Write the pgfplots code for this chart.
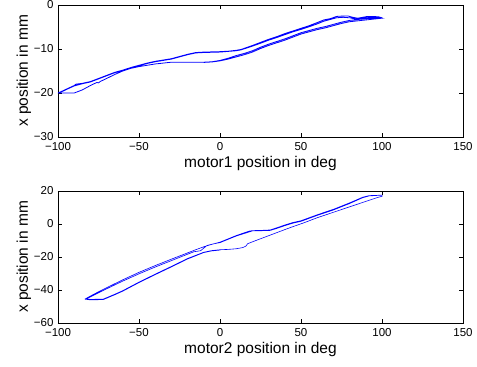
\documentclass[border=0pt]{standalone}
\usepackage{pgfplots}
\pgfplotsset{compat=1.18}
\usepackage{fontspec}
\setmainfont{Liberation Sans}
\begin{document}
\begin{tikzpicture}[x=1pt,y=1pt]
\pgfplotsset{
  every axis/.append style={
    scale only axis, width=405pt, height=132pt,
    anchor=south west,
    tick align=inside, tick pos=both,
    major tick length=4pt,
    every tick/.style={black, line width=0.5pt},
    axis line style={black, line width=0.7pt},
    tick label style={font=\fontsize{11.5}{12}\selectfont, black},
    xticklabel style={yshift=-2pt},
    yticklabel style={xshift=-1pt},
    label style={font=\fontsize{15.5}{16}\selectfont, black},
    xmin=-100, xmax=150,
    xtick={-100,-50,0,50,100,150},
    xticklabels={−100,−50,0,50,100,150},
    ylabel={x position in mm},
    ylabel style={at={(axis description cs:-0.084,0.5)}, anchor=center, rotate=0},
    xlabel style={at={(axis description cs:0.5,-0.197)}, anchor=center},
    clip=true,
  },
}
\begin{axis}[at={(58pt,230pt)},
  ymin=-30, ymax=0, ytick={-30,-20,-10,0}, yticklabels={−30,−20,−10,0},
  xlabel={motor1 position in deg}]
\addplot[blue, line width=0.8pt] coordinates {
(-100,-20) (-97,-19.5) (-93,-18.8) (-90,-18.3) (-89,-18.0) (-85,-17.8) (-80,-17.4) (-75,-16.7) (-70,-16.0) (-65,-15.3) (-60,-14.8) (-55,-14.2) (-50,-13.7) (-45,-13.2) (-40,-12.8) (-35,-12.5) (-30,-12.2) (-25,-11.7) (-20,-11.2) (-15,-10.8) (-10,-10.7) (-5,-10.65) (0,-10.6) (5,-10.5) (10,-10.3) (13,-10.1) (20,-9.2) (25,-8.5) (30,-7.8) (35,-7.2) (40,-6.5) (45,-5.9) (50,-5.3) (55,-4.7) (60,-4.0) (64,-3.4) (68,-3.1) (72,-2.6) (76,-2.5) (79,-2.5) (82,-2.8) (85,-3.0) (88,-2.8) (91,-2.6) (95,-2.6) (98,-2.7) (100,-2.9)
(100,-3.0) (95,-3.0) (90,-3.1) (85,-3.3) (80,-3.5) (75,-3.9) (70,-4.4) (65,-4.9) (60,-5.3) (55,-5.8) (50,-6.3) (45,-7.0) (40,-7.7) (35,-8.3) (30,-8.9) (25,-9.6) (20,-10.4) (15,-11.0) (10,-11.5) (5,-12.1) (2,-12.4) (0,-12.6) (-5,-12.9) (-10,-13.0) (-20,-13.0) (-30,-13.0) (-40,-13.4) (-50,-14.0) (-55,-14.4) (-60,-15.0) (-65,-15.8) (-70,-16.7) (-74,-17.4) (-75,-17.7) (-76,-17.6) (-80,-18.3) (-85,-19.3) (-90,-20.0) (-95,-20.0) (-100,-20.0)
(-97,-19.6) (-93,-18.9) (-90,-18.4) (-85,-17.9) (-80,-17.5) (-75,-16.8) (-70,-16.1) (-65,-15.4) (-60,-14.9) (-55,-14.3) (-50,-13.8) (-45,-13.3) (-40,-12.9) (-35,-12.6) (-30,-12.3) (-25,-11.8) (-20,-11.3) (-15,-10.9) (-10,-10.8) (0,-10.7) (10,-10.4) (13,-10.2) (20,-9.35) (25,-8.7) (30,-8.0) (35,-7.4) (40,-6.75) (45,-6.1) (50,-5.55) (55,-4.95) (60,-4.3) (64,-3.7) (68,-3.3) (72,-2.9) (76,-2.8) (80,-2.9) (84,-3.2) (88,-3.0) (93,-2.8) (98,-2.85) (100,-3.0)
(95,-3.2) (90,-3.4) (85,-3.6) (80,-3.8) (75,-4.2) (70,-4.7) (65,-5.2) (60,-5.6) (55,-6.1) (50,-6.6) (45,-7.3) (40,-8.0) (35,-8.6) (30,-9.2) (25,-9.9) (20,-10.7) (15,-11.3) (10,-11.8) (5,-12.3) (0,-12.7) (-5,-12.95) (-10,-13.05)
};
\end{axis}
\begin{axis}[at={(58pt,44pt)},
  ymin=-60, ymax=20, ytick={-60,-40,-20,0,20}, yticklabels={−60,−40,−20,0,20},
  xlabel={motor2 position in deg}]
\addplot[blue, line width=0.6pt] coordinates {
(100,17.5) (92,17.2) (88,16.2) (80,12.8) (70,8.9) (60,5.6) (50,2.0) (45,0.9) (40,-0.6) (35,-2.3) (31,-3.6) (25,-3.9) (20,-4.0) (18,-4.3) (10,-7.0) (5,-9.0) (0,-11.0) (-6,-12.6) (-10,-13.8) (-15,-15.6) (-20,-17.5) (-30,-21.3) (-40,-25.2) (-50,-29.3) (-60,-33.8) (-70,-38.6) (-78,-42.6) (-83,-45.3)
(-80,-45.7) (-72,-45.5) (-65,-42.6) (-60,-40.4) (-50,-35.2) (-40,-30.4) (-30,-25.7) (-20,-20.9) (-10,-17.1) (-5,-16.1) (0,-15.6) (5,-15.4) (10,-15.0) (14,-14.3) (16,-13.4) (17,-12.0) (20,-10.8) (30,-7.1) (40,-3.4) (45,-1.6) (52,0.8) (60,3.8) (70,7.1) (80,10.4) (90,13.7) (97,16.0) (100,16.8) (100,17.5)
(92,17.0) (88,15.9) (80,12.4) (70,8.5) (60,5.2) (50,1.6) (45,0.5) (40,-1.0) (35,-2.7) (31,-3.9) (25,-4.1) (20,-4.2) (10,-7.3) (5,-9.3) (0,-11.3) (-4,-12.0) (-8,-13.0) (-12,-16.2) (-16,-16.8) (-20,-18.3) (-30,-22.2) (-40,-26.1) (-50,-30.2) (-60,-34.6) (-70,-39.3) (-78,-43.2) (-83,-45.6)
(-80,-46.0) (-72,-45.8) (-65,-42.9) (-60,-40.7) (-50,-35.5) (-40,-30.7) (-30,-26.0) (-20,-21.2) (-10,-17.3) (-5,-16.3) (0,-15.8)
};
\end{axis}
\pgfresetboundingbox
\path (0,0) rectangle (477,367);
\end{tikzpicture}
\end{document}
